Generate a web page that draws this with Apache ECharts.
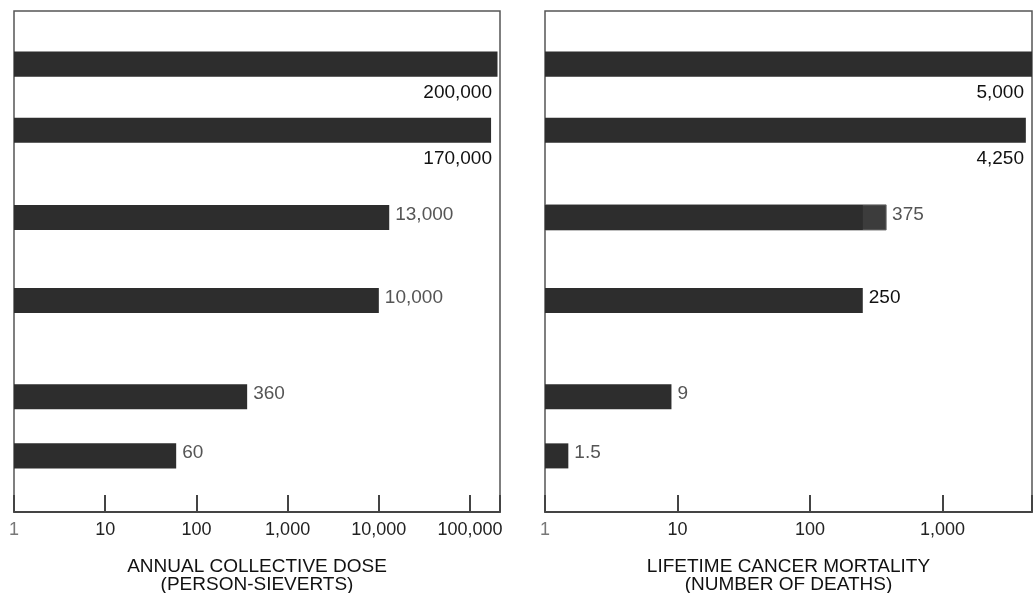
<!DOCTYPE html>
<html>
<head>
<meta charset="utf-8">
<script src="https://cdn.jsdelivr.net/npm/echarts@6/dist/echarts.min.js"></script>
<style>
  html, body { margin: 0; padding: 0; background: #fff; }
  #chart { width: 1034px; height: 593px; }
</style>
</head>
<body>
<div id="chart"></div>
<script>
// ---- data ----
const rowKeys = ['r1', 'r2', 'r3', 'r4', 'r5', 'r6'];
const doseValues = [200000, 170000, 13000, 10000, 360, 60];
const mortalityValues = [5000, 4250, 375, 250, 9, 1.5];
// inner (darker) part of the composite mortality bar
const mortalityCore = [null, null, 250, null, null, null];
const doseTicks = [1, 10, 100, 1000, 10000, 100000];
const mortalityTicks = [1, 10, 100, 1000];
const doseTitle = 'ANNUAL COLLECTIVE DOSE\n(PERSON-SIEVERTS)';
const mortalityTitle = 'LIFETIME CANCER MORTALITY\n(NUMBER OF DEATHS)';

// ---- layout / style ----
const ROW_SLOTS = [5.3, 11.9, 20.6, 28.9, 38.5, 44.4]; // row centres on a 0..50 band axis
const BAR_SPAN = 2.5;                                  // bar thickness in band units
const FONT = "'Liberation Sans', Arial, Helvetica, sans-serif";
const BAR_COLOR = '#2d2d2d';
const DARK_LABELS = [[0, 1], [0, 1, 3]]; // per panel: rows whose labels are printed in black

const fmt = v => v.toLocaleString('en-US');

function makeRenderer(panel, cores) {
  return function (params, api) {
    const i = params.dataIndex;
    const v = api.value(0);
    const slot = api.value(1);
    const cs = params.coordSys;
    const start = api.coord([1, slot]);
    const end = api.coord([v, slot]);
    const top = api.coord([1, slot - BAR_SPAN / 2])[1];
    const bottom = api.coord([1, slot + BAR_SPAN / 2])[1];
    const h = bottom - top;
    const clipBox = { x: cs.x, y: cs.y, width: cs.width, height: cs.height };
    const children = [];
    const full = echarts.graphic.clipRectByRect(
      { x: start[0], y: top, width: end[0] - start[0], height: h }, clipBox);
    const core = cores[i];
    if (core != null) {
      // outer extension drawn lighter, core drawn on top
      children.push({ type: 'rect', shape: full,
        style: { fill: '#3c3c3c', stroke: '#666', lineWidth: 1 } });
      const cEnd = api.coord([core, slot]);
      children.push({ type: 'rect',
        shape: echarts.graphic.clipRectByRect(
          { x: start[0], y: top, width: cEnd[0] - start[0], height: h }, clipBox),
        style: { fill: BAR_COLOR } });
    } else {
      children.push({ type: 'rect', shape: full, style: { fill: BAR_COLOR } });
    }
    const dark = DARK_LABELS[panel].indexOf(i) >= 0;
    const right = cs.x + cs.width;
    const below = end[0] > right - 70;
    children.push({
      type: 'text',
      x: below ? right - 8 : end[0] + 6,
      y: below ? bottom + 16 : (top + bottom) / 2 - 3,
      style: {
        text: fmt(v),
        fill: dark ? '#111' : '#555',
        font: '19px ' + FONT,
        align: below ? 'right' : 'left',
        verticalAlign: 'middle'
      }
    });
    return { type: 'group', children: children };
  };
}

function logAxis(gridIndex, max, ticks, title) {
  return {
    type: 'log', logBase: 10, gridIndex: gridIndex, min: 1, max: max,
    position: 'bottom',
    axisLine: { show: true, onZero: false, lineStyle: { color: '#444', width: 2 } },
    axisTick: { show: true, inside: true, length: 17, lineStyle: { color: '#444', width: 2 } },
    splitLine: { show: false },
    axisLabel: {
      margin: 9,
      fontFamily: FONT,
      fontSize: 18,
      color: v => (v === 1 ? '#777' : '#222'),
      formatter: v => {
        const t = ticks.find(k => Math.abs(Math.log10(k) - Math.log10(v)) < 1e-6);
        return t == null ? '' : fmt(t);
      }
    },
    name: title,
    nameLocation: 'middle',
    nameGap: 46,
    nameTextStyle: { fontFamily: FONT, fontSize: 19, color: '#111', lineHeight: 18 }
  };
}

function bandAxis(gridIndex) {
  return { type: 'value', gridIndex: gridIndex, min: 0, max: 50, inverse: true, show: false };
}

const gridBase = { top: 11, height: 501, show: true, borderColor: '#555', borderWidth: 1.5,
  containLabel: false, outerBoundsMode: 'none' };

const chart = echarts.init(document.getElementById('chart'), null, { renderer: 'canvas' });
chart.setOption({
  animation: false,
  backgroundColor: '#fff',
  grid: [
    Object.assign({ left: 14, width: 486 }, gridBase),
    Object.assign({ left: 545, width: 487 }, gridBase)
  ],
  xAxis: [
    logAxis(0, 213000, doseTicks, doseTitle),
    logAxis(1, 4730, mortalityTicks, mortalityTitle)
  ],
  yAxis: [bandAxis(0), bandAxis(1)],
  series: [
    {
      type: 'custom', name: 'dose', xAxisIndex: 0, yAxisIndex: 0,
      renderItem: makeRenderer(0, rowKeys.map(() => null)),
      encode: { x: 0, y: 1 },
      data: rowKeys.map((k, i) => [doseValues[i], ROW_SLOTS[i]])
    },
    {
      type: 'custom', name: 'mortality', xAxisIndex: 1, yAxisIndex: 1,
      renderItem: makeRenderer(1, mortalityCore),
      encode: { x: 0, y: 1 },
      data: rowKeys.map((k, i) => [mortalityValues[i], ROW_SLOTS[i]])
    }
  ]
});
</script>
</body>
</html>
